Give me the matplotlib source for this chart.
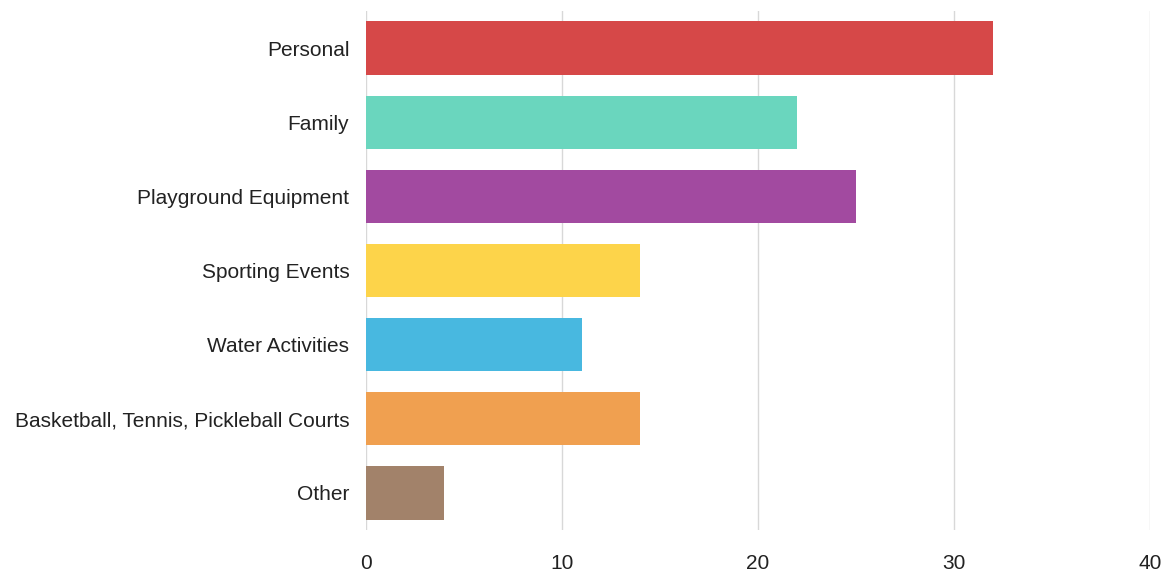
import matplotlib
matplotlib.use("Agg")
import matplotlib.pyplot as plt

categories = ["Personal", "Family", "Playground Equipment", "Sporting Events",
              "Water Activities", "Basketball, Tennis, Pickleball Courts", "Other"]
values = [32, 22, 25, 14, 11, 14, 4]
colors = ["#d64848", "#6ad6be", "#a24aa0", "#fdd44a", "#48b8e0", "#f0a050", "#a2826a"]
xticks = [0, 10, 20, 30, 40]

plt.rcParams['font.family'] = ['Liberation Sans', 'DejaVu Sans']
fig = plt.figure(figsize=(11.66, 5.74), dpi=100)
ax = fig.add_axes([366/1166, 1 - 530/574, (1150-366)/1166, (530-11)/574])

y = list(range(len(categories)))
ax.barh(y, values, height=0.72, color=colors, zorder=2)
ax.set_ylim(len(categories) - 0.5, -0.5)
ax.set_xlim(0, 40)
ax.set_xticks(xticks)
ax.set_xticklabels([str(t) for t in xticks])
ax.set_yticks(y)
ax.set_yticklabels(categories)
ax.grid(axis='x', color='#d8d8d8', linewidth=1, zorder=1)
for s in ax.spines.values():
    s.set_visible(False)
ax.tick_params(axis='both', length=0, labelsize=15, colors='#222222')
ax.tick_params(axis='x', pad=17)
ax.tick_params(axis='y', pad=12)

fig.savefig("out.png", dpi=100)
